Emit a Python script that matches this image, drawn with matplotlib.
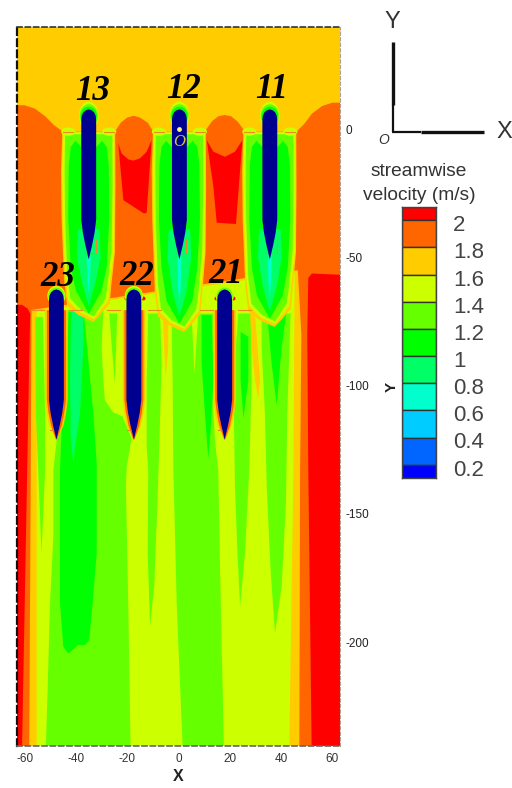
import matplotlib
matplotlib.use("Agg")
import matplotlib.pyplot as plt
import numpy as np
from matplotlib.patches import Ellipse

plt.rcParams["font.family"] = ["Liberation Sans", "DejaVu Sans"]

# contour colours, one per velocity band
c20 = "#ff0000"
c18 = "#ff6600"
c16 = "#ffcc00"
c14 = "#ccff00"
c12 = "#66ff00"
c10 = "#00ff00"
c08 = "#00ff66"
c06 = "#00ffcc"
c04 = "#00ccff"
c02 = "#0066ff"
c00 = "#0000ff"
blade_col = "#000090"

x_ticks = [-60, -40, -20, 0, 20, 40, 60]
x_labels = ["-60", "-40", "-20", "0", "20", "40", "60"]
y_ticks = [0, -50, -100, -150, -200]
y_labels = ["0", "-50", "-100", "-150", "-200"]

cbar_levels = [2, 1.8, 1.6, 1.4, 1.2, 1, 0.8, 0.6, 0.4, 0.2]
cbar_labels = ["2", "1.8", "1.6", "1.4", "1.2", "1", "0.8", "0.6", "0.4", "0.2"]
cbar_edges = [2.1, 2, 1.8, 1.6, 1.4, 1.2, 1, 0.8, 0.6, 0.4, 0.2, 0.1]
cbar_cols = [c20, c18, c16, c14, c12, c10, c08, c06, c04, c02, c00]

# turbines: name, hub x, nose y
names_row1 = ["13", "12", "11"]
names_row2 = ["23", "22", "21"]
hub_row1 = [-35.0, 0.35, 35.6]
hub_row2 = [-47.6, -17.4, 18.0]
nose_row1 = 7.7
nose_row2 = -62.5
label_x = [-33.7, 1.8, 36.2, -47.0, -16.2, 18.5]
label_y = [14.6, 15.6, 15.6, -57.7, -57.3, -56.5]

blade_off = [0, -0.4, -1.2, -2.5, -4, -43, -48, -53, -58.5]
blade_hw = [0, 1.2, 2.1, 2.7, 2.9, 2.9, 2.3, 1.3, 0]

# orange field below the inflow
orange_main = [(-63.3, 9.3), (-60, 9.3), (-56, 8), (-52, 5), (-48.5, 1.5), (-45, -1), (-24.8, -1),
               (-22.5, 2.5), (-20, 4.5), (-17.5, 5.2), (-15, 4.5), (-12, 2.5), (-9.8, -1), (10.2, -1),
               (13, 3), (15.5, 5), (18, 5.5), (20.5, 5), (23, 3), (26, -1), (46, -1), (49, 2), (52, 6),
               (56, 9), (60, 10.3), (63.3, 10.3), (63.3, -241), (-63.3, -241)]
red_gap1 = [(-23.5, -5.6), (-22.2, -9.5), (-19.6, -11.8), (-17.6, -12.3), (-15, -11.4), (-12.4, -8.8),
            (-10.5, -4.3), (-12.4, -32.6), (-13.5, -32.9), (-21.5, -27.7)]
red_gap2 = [(11, -4.3), (13.6, -8.8), (18.1, -10.8), (22, -8.8), (24.9, -4.3), (22.4, -37), (14.9, -36.5),
            (13.6, -22.5)]
red_right = [(50.6, -58), (52, -56.3), (63.3, -56.8), (63.3, -241), (51.9, -241), (50.6, -133), (50.2, -80)]
red_left = [(-63.3, -68.5), (-61, -68.5), (-58.8, -70), (-57.8, -72), (-58.2, -90), (-59, -133), (-61, -241),
            (-63.3, -241)]

# lower part of the domain
low_yellow = [(-57.3, -70.5), (46.5, -55), (47.9, -80), (47.4, -133), (47.1, -241), (-58.2, -241), (-57.6, -133)]
low_lime = [(-55.3, -71), (45.3, -56), (44.8, -133), (43.2, -241), (-55.3, -241)]

green_left = [(-51.7, -240.8), (-50.8, -210.9), (-50.1, -184.9), (-48.8, -158.9), (-48.8, -132.9), (-47.5, -121.3),
              (-43.6, -97.9), (-43.6, -70.6), (-37.1, -70.6), (-33.2, -75.1), (-29.3, -70.6), (-30, -84.9),
              (-29.3, -97.9), (-28.7, -105.7), (-25.4, -110.5), (-21.8, -112), (-18.3, -120.6), (-20.2, -131.7),
              (-20.5, -139.4), (-19.6, -184.9), (-18.7, -240.8)]
green_c = [(1.6, -240.8), (-0.7, -184.9), (-2, -132.9), (-2.3, -97.9), (-2.7, -74.5), (5.1, -71.9), (6.2, -95.3),
           (7.7, -71.9), (13.6, -71.9), (13.6, -110.9), (14.2, -121.3), (15.5, -132.9), (16.2, -171.9), (17.7, -240.8)]
green_s1 = [(-55.9, -73.2), (-52.9, -73.2), (-52, -110.9), (-52, -132.9), (-53.4, -165.4), (-54.7, -132.9), (-55.6, -110.9)]
green_s2 = [(-27, -71.9), (-23.9, -71.9), (-24.8, -99.2), (-26, -85)]
green_s3 = [(-11.8, -71.9), (-7.2, -71.9), (-6.6, -91.4), (-7.5, -123.9), (-8.2, -145.9), (-9.5, -178.4), (-11.1, -194),
            (-12, -165.4), (-11.8, -132.9), (-12.4, -123.9), (-12.4, -97.9)]
green_s4 = [(23.3, -71.9), (28.5, -71.9), (28.5, -97.9), (27.6, -132.9), (25.9, -165.4), (24, -186.2), (23, -165.4),
            (22, -139.4), (21.4, -97.9)]
green_s5 = [(32.4, -71.9), (43.7, -71.9), (42.4, -110.9), (41.9, -145.9), (40.2, -178.4), (37.6, -196.6), (35.9, -171.9),
            (34.4, -139.4), (33.7, -110.9), (32.4, -84.9)]
dark_big = [(-42.9, -71.2), (-37.1, -71.2), (-36.5, -76), (-33.2, -110.9), (-31.9, -130.4), (-31.9, -165.4),
            (-33.5, -184.9), (-34.8, -199.2), (-36.5, -201.1), (-39.1, -201.1), (-43, -204.4), (-44.9, -201.8),
            (-46.2, -184.9), (-46.2, -132.9), (-45.6, -117.4), (-43.6, -97.9)]
dark_s1 = [(9, -72.5), (12.9, -72.5), (13.6, -97.9), (12.5, -117.4), (11.6, -128.4), (10.3, -110.9), (9, -91.4)]
dark_s2 = [(24.2, -79), (27.2, -81), (27.2, -97.9), (25.9, -108.3), (25.3, -112.8), (24.2, -97.9)]
dark_s3 = [(34.4, -70.6), (42.2, -70.6), (40.2, -84.9), (38.3, -107.6), (36.3, -91.4)]
mint_s1 = [(-41.7, -71.2), (-37.1, -71.2), (-37.1, -84.9), (-38.4, -110.9), (-40.4, -123.9), (-41, -130.4), (-42, -121.3),
           (-42.3, -97.9), (-42, -78.4)]
amber_s1 = [(-6.2, -71.9), (-4, -71.9), (-4, -84.9), (-5, -97.2), (-5.6, -84.9)]
amber_s2 = [(27.9, -71.9), (29.8, -71.9), (31.8, -97.9), (31.1, -105), (29.8, -97.9), (28.5, -84.9)]

# row 1 wake outlines, x measured from the hub
wake_amber = [(-10.3, -1), (10.3, -1), (10.4, -22), (10.2, -48), (8.8, -61), (8.2, -68), (4.4, -72.5), (1.8, -75.1),
              (-4, -72.5), (-8.4, -69), (-9.6, -59), (-10.6, -35), (-10.8, -16)]
wake_lime = [(-9.9, -1.3), (9.9, -1.3), (10, -22), (9.8, -48), (8.3, -60), (7.6, -67), (2, -74), (-3.5, -71.5),
             (-8, -67), (-9.2, -57), (-10.1, -35), (-10.3, -16)]
wake_green = [(-9.2, -2), (9.2, -2), (9.3, -22), (8.9, -47), (7.4, -60), (6.6, -66), (2, -73), (-3, -70.5),
              (-7.2, -66), (-8.4, -56), (-9.2, -35), (-9.4, -16)]
wake_dark = [(-5.2, -4.5), (-3, -7), (3, -7), (5.2, -4.5), (7, -7), (7.8, -14), (8, -35), (7, -54), (5, -63), (0, -72),
             (-5, -63), (-7, -54), (-8, -35), (-7.8, -14), (-7, -7)]
wake_mint = [(-4.2, -39), (4.2, -39), (4.6, -50), (2.6, -60), (0, -69), (-2.6, -60), (-4.6, -50)]
wake_aqua = [(-0.8, -50), (0.8, -50), (0.5, -58), (0, -64), (-0.5, -58)]
wake_drop = [0, -4, -2]

# short bars at the blade plane
bar_left_r1 = [-10, 6]
bar_left_r2 = [-57.3, -42.8, -27.7, -11.8, 8.4, 23.3]
bar_len_r1 = 4
bar_len_r2 = 5
red_dots_x = [-20.5, -13.7, 14.5, 21.4]
red_dots_y = [-66, -66, -66, -66]

fig = plt.figure(figsize=(5.12, 7.88), dpi=100)
W, H = 512.0, 788.0
ax = fig.add_axes([16.5 / W, (H - 746) / H, 323.5 / W, 719 / H])


def poly(pts, col):
    a = np.array(pts)
    ax.fill(a[:, 0], a[:, 1], color=col, lw=0)


poly([(-64, 40), (64, 40), (64, -241), (-64, -241)], c16)
poly(orange_main, c18)
poly(red_gap1, c20)
poly(red_gap2, c20)
poly(red_right, c20)
poly(red_left, c20)
poly(low_yellow, c16)
poly(low_lime, c14)
for p in [green_left, green_c, green_s1, green_s2, green_s3, green_s4, green_s5]:
    poly(p, c12)
for p in [dark_big, dark_s1, dark_s2, dark_s3]:
    poly(p, c10)
poly(mint_s1, c08)
poly(amber_s1, c16)
poly(amber_s2, c16)

# row 1 wakes
for cx, drop in zip(hub_row1, wake_drop):
    for shape, col in [(wake_amber, c16), (wake_lime, c14), (wake_green, c12), (wake_dark, c10),
                       (wake_mint, c08), (wake_aqua, c06)]:
        a = np.array(shape)
        ys = np.where(a[:, 1] < -55, a[:, 1] + drop, a[:, 1])
        ax.fill(cx + a[:, 0], ys, color=col, lw=0)

off = np.array(blade_off)
hw = np.array(blade_hw)

# row 2 blade surroundings
for cx in hub_row2:
    for pad, col in [(1.5, c16), (0.8, c18)]:
        keep = off <= -4
        ys = nose_row2 + off[keep]
        ys = np.concatenate([[-70.6], ys[1:]])
        ws = hw[keep] + pad
        ws[-1] = 0.2
        ax.fill(np.concatenate([cx - ws, (cx + ws)[::-1]]), np.concatenate([ys, ys[::-1]]), color=col, lw=0)
ax.scatter(red_dots_x, red_dots_y, s=8, color=c20, lw=0, zorder=3)

# nose halos
for cx in hub_row1:
    for px, pt, col in [(1.0, 3.0, c14), (0.7, 2.0, c12), (0.3, 1.0, c10)]:
        ax.add_patch(Ellipse((cx, nose_row1 - 2.5), 2 * (2.85 + px), 2 * (2.5 + pt), color=col, lw=0, zorder=3))
for cx in hub_row2:
    for px, pt, col in [(0.7, 1.4, c14), (0.3, 0.7, c12)]:
        ax.add_patch(Ellipse((cx, nose_row2 - 2.5), 2 * (2.85 + px), 2 * (2.5 + pt), color=col, lw=0, zorder=3))

# blades
for hubs, nose in [(hub_row1, nose_row1), (hub_row2, nose_row2)]:
    for cx in hubs:
        ys = nose + off
        ax.fill(np.concatenate([cx - hw, (cx + hw)[::-1]]), np.concatenate([ys, ys[::-1]]),
                color=blade_col, lw=0, zorder=4)

# bars
for cx in hub_row1:
    for b in bar_left_r1:
        ax.add_patch(Ellipse((cx + b + 2, -1), 5.5, 3.2, color=c14, lw=0, zorder=2.5))
        ax.plot([cx + b, cx + b + bar_len_r1], [-1, -1], color="#f08a20", lw=0.8, zorder=3)
    ax.plot([cx - 2, cx + 2], [-48.5, -48.5], color="#f08a20", lw=0.8, zorder=3)
    ax.plot([cx + 2.7, cx + 2.7], [-43, -48.5], color="#f08a20", lw=0.8, zorder=3)
for b in bar_left_r2:
    ax.plot([b, b + bar_len_r2], [-70.6, -70.6], color="#f08a20", lw=0.8, zorder=3)
for cx in hub_row2:
    ax.plot([cx - 2.6, cx - 0.5], [-117.4, -117.4], color="#f08a20", lw=0.8, zorder=3)

for name, x, y in zip(names_row1 + names_row2, label_x, label_y):
    ax.text(x, y, name, family="Liberation Serif", style="italic", weight="bold", fontsize=25,
            ha="center", va="center", color="black", zorder=6)

ax.scatter([0.3], [-0.1], s=12, color="#fff27a", lw=0, zorder=6)
ax.text(0.4, -5, "O", family="Liberation Serif", style="italic", fontsize=12, color="#c9c24a",
        ha="center", va="center", zorder=6)

ax.set_xlim(-63.16, 62.96)
ax.set_ylim(-240.5, 39.8)
ax.set_xticks(x_ticks)
ax.set_xticklabels(x_labels, fontsize=8.5, color="#333333")
ax.yaxis.tick_right()
ax.set_yticks(y_ticks)
ax.set_yticklabels(y_labels, fontsize=8.5, color="#222222", ha="left")
ax.tick_params(axis="x", length=0, pad=5)
ax.tick_params(axis="y", length=0, pad=4)
ax.set_xlabel("X", fontsize=11.5, fontweight="bold", color="#222222")
ax.xaxis.set_label_coords(0.5, -0.032)
ax.yaxis.set_label_position("right")
ax.set_ylabel("Y", fontsize=11, fontweight="bold", color="#222222", rotation=90)
ax.yaxis.set_label_coords(1.139, 0.5)

for side, col, lw in [("left", "#111111", 1.6), ("top", "#333333", 1.2),
                      ("bottom", "#666666", 1.2), ("right", "#b0a090", 0.8)]:
    ax.spines[side].set_color(col)
    ax.spines[side].set_linewidth(lw)
    ax.spines[side].set_linestyle((0, (3, 2)))
    ax.spines[side].set_zorder(7)

# triad, in figure pixels
triad = fig.add_axes([0, 0, 1, 1], facecolor="none")
triad.set_xlim(0, W)
triad.set_ylim(H, 0)
triad.axis("off")
triad.plot([393, 393], [105, 42], color="#111111", lw=2.4, solid_capstyle="butt")
triad.plot([393, 393], [132, 105], color="#111111", lw=1.6, solid_capstyle="butt")
triad.plot([392, 421], [132, 132], color="#111111", lw=1.6, solid_capstyle="butt")
triad.plot([421, 484], [131.5, 131.5], color="#111111", lw=2.4, solid_capstyle="butt")
triad.text(392, 22, "Y", fontsize=17, color="#333333", ha="center", va="center")
triad.text(504, 132, "X", fontsize=17, color="#333333", ha="center", va="center")
triad.text(384, 140, "O", fontsize=10, style="italic", color="#333333", ha="center", va="center")
triad.text(419, 171, "streamwise", fontsize=13.8, color="#333333", ha="center", va="center")
triad.text(419, 195, "velocity (m/s)", fontsize=13.8, color="#333333", ha="center", va="center")

# colour bar
cb = fig.add_axes([402 / W, (H - 478.3) / H, 34 / W, 271.6 / H])
for i, col in enumerate(cbar_cols):
    cb.barh(cbar_edges[i + 1], 1, height=cbar_edges[i] - cbar_edges[i + 1], align="edge", color=col,
            edgecolor="#333333", linewidth=1.0)
cb.set_xlim(0, 1)
cb.set_ylim(0.1, 2.1)
cb.set_xticks([])
cb.set_yticks([])
for s in cb.spines.values():
    s.set_color("#444444")
    s.set_linewidth(1.0)
for lev, lab in zip(cbar_levels, cbar_labels):
    cb.text(1.5, lev - 0.04, lab, fontsize=16, color="#444444", ha="left", va="center",
            transform=cb.get_yaxis_transform())

fig.savefig("out.png", dpi=100)
